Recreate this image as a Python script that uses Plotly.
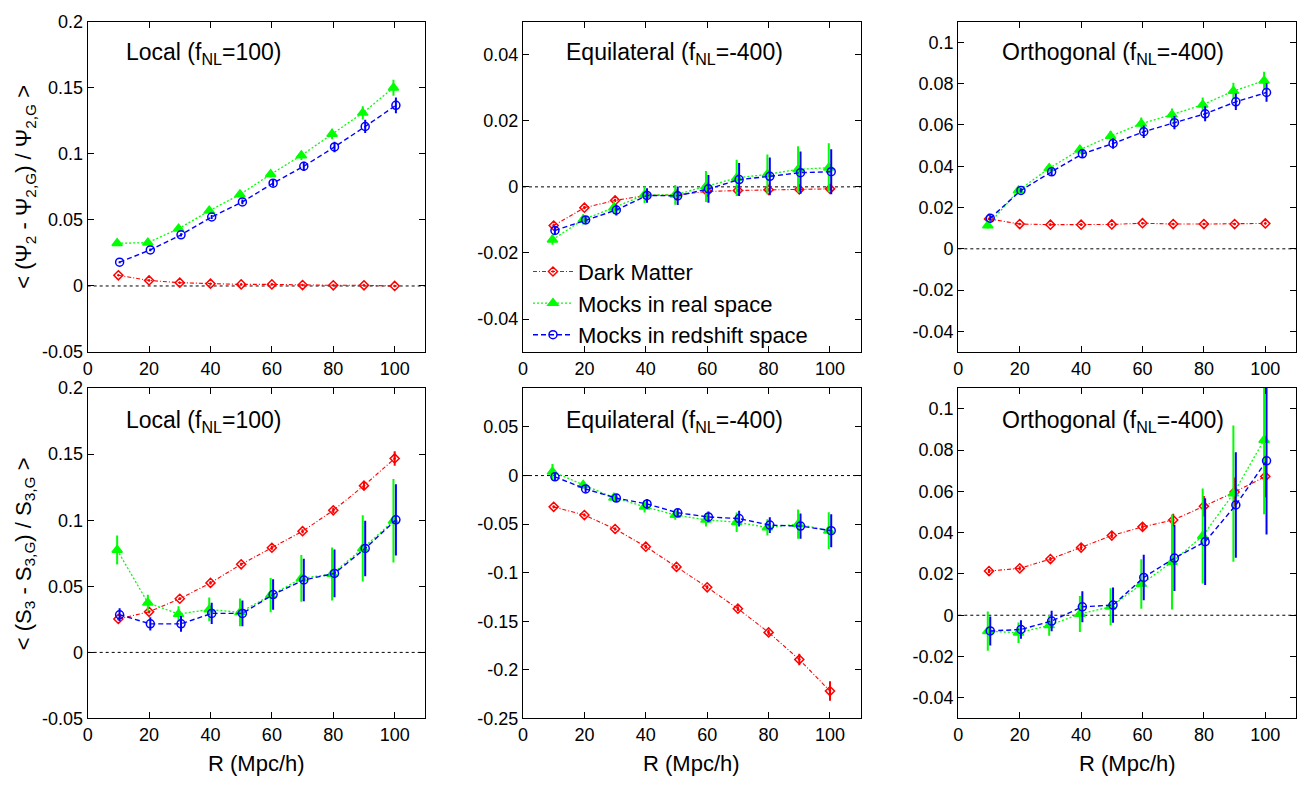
import plotly.graph_objects as go

# ---------------- data ----------------
R = [10, 20, 30, 40, 50, 60, 70, 80, 90, 100]
x_ticks = [0, 20, 40, 60, 80, 100]

series_names = ["Dark Matter", "Mocks in real space", "Mocks in redshift space"]
panel_titles = ["Local (f<sub>NL</sub>=100)", "Equilateral (f<sub>NL</sub>=-400)",
                "Orthogonal (f<sub>NL</sub>=-400)"]
ytitle_top = "< (\u03a8<sub>2</sub> - \u03a8<sub>2,G</sub>) / \u03a8<sub>2,G</sub> >"
ytitle_bot = "< (S<sub>3</sub> - S<sub>3,G</sub>) / S<sub>3,G</sub> >"
xtitle = "R (Mpc/h)"

# Top row: Psi_2
psi_loc_dm = [0.0081, 0.0042, 0.0025, 0.0017, 0.0012, 0.0012, 0.0007, 0.0005, 0.0005, 0.0000]
psi_loc_dm_err = [0.0006] * 10
psi_loc_real = [0.0323, 0.0328, 0.0433, 0.0569, 0.0692, 0.0845, 0.0988, 0.1150, 0.1310, 0.1500]
psi_loc_real_err = [0.0008, 0.0010, 0.0012, 0.0015, 0.0018, 0.0025, 0.0035, 0.0040, 0.0050, 0.0060]
psi_loc_red = [0.0180, 0.0273, 0.0387, 0.0522, 0.0636, 0.0778, 0.0906, 0.1052, 0.1207, 0.1367]
psi_loc_red_err = [0.0008, 0.0010, 0.0012, 0.0015, 0.0018, 0.0025, 0.0035, 0.0040, 0.0050, 0.0060]

psi_equ_dm = [-0.0117, -0.0063, -0.0041, -0.0026, -0.0024, -0.0014, -0.0011, -0.0009, -0.0008, -0.0006]
psi_equ_dm_err = [0.0005] * 10
psi_equ_real = [-0.0160, -0.0099, -0.0063, -0.0024, -0.0024, 0.0001, 0.0027, 0.0038, 0.0053, 0.0058]
psi_equ_real_err = [0.0015, 0.0015, 0.0020, 0.0025, 0.0030, 0.0047, 0.0055, 0.0060, 0.0070, 0.0074]
psi_equ_red = [-0.0132, -0.0100, -0.0070, -0.0026, -0.0027, -0.0006, 0.0022, 0.0032, 0.0043, 0.0046]
psi_equ_red_err = [0.0012, 0.0012, 0.0017, 0.0022, 0.0028, 0.0042, 0.0050, 0.0057, 0.0064, 0.0068]

psi_ort_dm = [0.0145, 0.0120, 0.0117, 0.0117, 0.0118, 0.0124, 0.0120, 0.0120, 0.0120, 0.0123]
psi_ort_dm_err = [0.0005] * 10
psi_ort_real = [0.0113, 0.0283, 0.0390, 0.0480, 0.0546, 0.0606, 0.0650, 0.0698, 0.0764, 0.0814]
psi_ort_real_err = [0.0015, 0.0010, 0.0015, 0.0020, 0.0025, 0.0030, 0.0030, 0.0035, 0.0040, 0.0043]
psi_ort_red = [0.0148, 0.0283, 0.0373, 0.0460, 0.0510, 0.0567, 0.0611, 0.0654, 0.0712, 0.0757]
psi_ort_red_err = [0.0012, 0.0010, 0.0015, 0.0020, 0.0025, 0.0030, 0.0032, 0.0036, 0.0040, 0.0045]

# Bottom row: S_3
s3_loc_dm = [0.0253, 0.0307, 0.0406, 0.0526, 0.0667, 0.0792, 0.0917, 0.1075, 0.1262, 0.1468]
s3_loc_dm_err = [0.0010, 0.0010, 0.0010, 0.0012, 0.0012, 0.0015, 0.0015, 0.0020, 0.0030, 0.0055]
s3_loc_real = [0.0775, 0.0376, 0.0290, 0.0325, 0.0303, 0.0433, 0.0560, 0.0593, 0.0787, 0.0996]
s3_loc_real_err = [0.0110, 0.0060, 0.0060, 0.0090, 0.0105, 0.0130, 0.0177, 0.0200, 0.0250, 0.0316]
s3_loc_red = [0.0285, 0.0216, 0.0216, 0.0295, 0.0295, 0.0438, 0.0548, 0.0598, 0.0787, 0.1003]
s3_loc_red_err = [0.0050, 0.0050, 0.0060, 0.0080, 0.0098, 0.0115, 0.0160, 0.0180, 0.0210, 0.0270]

s3_equ_dm = [-0.0322, -0.0406, -0.0550, -0.0732, -0.0940, -0.1150, -0.1370, -0.1614, -0.1893, -0.2218]
s3_equ_dm_err = [0.0015, 0.0015, 0.0015, 0.0020, 0.0020, 0.0020, 0.0025, 0.0030, 0.0060, 0.0100]
s3_equ_real = [0.0040, -0.0097, -0.0228, -0.0320, -0.0406, -0.0456, -0.0480, -0.0534, -0.0500, -0.0567]
s3_equ_real_err = [0.0080, 0.0040, 0.0040, 0.0060, 0.0050, 0.0067, 0.0100, 0.0084, 0.0150, 0.0190]
s3_equ_red = [-0.0013, -0.0138, -0.0232, -0.0292, -0.0383, -0.0426, -0.0443, -0.0510, -0.0520, -0.0567]
s3_equ_red_err = [0.0040, 0.0040, 0.0040, 0.0050, 0.0040, 0.0055, 0.0080, 0.0080, 0.0130, 0.0170]

s3_ort_dm = [0.0214, 0.0227, 0.0272, 0.0328, 0.0386, 0.0428, 0.0461, 0.0528, 0.0597, 0.0672]
s3_ort_dm_err = [0.0010, 0.0010, 0.0010, 0.0012, 0.0012, 0.0015, 0.0030, 0.0050, 0.0070, 0.0100]
s3_ort_real = [-0.0077, -0.0085, -0.0049, 0.0006, 0.0041, 0.0151, 0.0258, 0.0384, 0.0589, 0.0849]
s3_ort_real_err = [0.0095, 0.0050, 0.0050, 0.0087, 0.0090, 0.0120, 0.0230, 0.0230, 0.0330, 0.0360]
s3_ort_red = [-0.0076, -0.0069, -0.0028, 0.0041, 0.0049, 0.0183, 0.0277, 0.0356, 0.0534, 0.0748]
s3_ort_red_err = [0.0070, 0.0045, 0.0050, 0.0075, 0.0085, 0.0110, 0.0160, 0.0210, 0.0255, 0.0357]

# axis ranges and ticks per panel
yrange = [[-0.05, 0.2], [-0.05, 0.05], [-0.05, 0.11],
          [-0.05, 0.2], [-0.25, 0.09], [-0.05, 0.11]]
yticks = [[-0.05, 0, 0.05, 0.1, 0.15, 0.2],
          [-0.04, -0.02, 0, 0.02, 0.04],
          [-0.04, -0.02, 0, 0.02, 0.04, 0.06, 0.08, 0.1],
          [-0.05, 0, 0.05, 0.1, 0.15, 0.2],
          [-0.25, -0.2, -0.15, -0.1, -0.05, 0, 0.05],
          [-0.04, -0.02, 0, 0.02, 0.04, 0.06, 0.08, 0.1]]

panels = [
    (psi_loc_dm, psi_loc_dm_err, psi_loc_real, psi_loc_real_err, psi_loc_red, psi_loc_red_err),
    (psi_equ_dm, psi_equ_dm_err, psi_equ_real, psi_equ_real_err, psi_equ_red, psi_equ_red_err),
    (psi_ort_dm, psi_ort_dm_err, psi_ort_real, psi_ort_real_err, psi_ort_red, psi_ort_red_err),
    (s3_loc_dm, s3_loc_dm_err, s3_loc_real, s3_loc_real_err, s3_loc_red, s3_loc_red_err),
    (s3_equ_dm, s3_equ_dm_err, s3_equ_real, s3_equ_real_err, s3_equ_red, s3_equ_red_err),
    (s3_ort_dm, s3_ort_dm_err, s3_ort_real, s3_ort_real_err, s3_ort_red, s3_ort_red_err),
]

# ---------------- layout geometry ----------------
W, H = 1299, 785
FONT = "Liberation Sans, Arial, Helvetica, sans-serif"
xdom = [(83, 422), (520, 859), (957, 1296)]
ydom = [(12, 351), (388, 727)]

def fmt(v):
    s = ("%g" % v)
    return "0" if s in ("0", "-0") else s

fig = go.Figure()
layout = dict(width=W, height=H, margin=dict(l=0, r=0, t=0, b=0),
              paper_bgcolor="white", plot_bgcolor="white",
              font=dict(family=FONT, color="black", size=18),
              showlegend=True,
              legend=dict(x=525 / W, y=1 - 247 / H, xanchor="left", yanchor="top",
                          bgcolor="rgba(0,0,0,0)", font=dict(size=22, family=FONT),
                          tracegroupgap=0, itemwidth=40))
annotations = []
shapes = []

styles = [
    dict(color="#ff0000", dash="4px,2px,1px,2px", width=1.1, symbol="diamond-open-dot", msize=7, off=0.0),
    dict(color="#00ff00", dash="2px,2px", width=1.3, symbol="triangle-up", msize=9, off=-0.4),
    dict(color="#0000ff", dash="5px,3px", width=1.4, symbol="circle-open", msize=8, off=0.4),
]

for i, pdata in enumerate(panels):
    row, col = divmod(i, 3)
    k = i + 1
    xa = "xaxis" if k == 1 else "xaxis%d" % k
    ya = "yaxis" if k == 1 else "yaxis%d" % k
    xref = "x" if k == 1 else "x%d" % k
    yref = "y" if k == 1 else "y%d" % k
    x0, x1 = xdom[col]
    y0, y1 = ydom[row]
    layout[xa] = dict(domain=[x0 / W, x1 / W], range=[0, 110], anchor=yref,
                      tickvals=x_ticks, ticktext=[str(t) for t in x_ticks],
                      ticks="inside", ticklen=6, tickwidth=1, tickcolor="black",
                      showline=True, linecolor="black", linewidth=1.3, mirror="allticks",
                      showgrid=False, zeroline=False, tickfont=dict(size=18, family=FONT))
    layout[ya] = dict(domain=[1 - y1 / H, 1 - y0 / H], range=yrange[i], anchor=xref,
                      tickvals=yticks[i], ticktext=[fmt(t) for t in yticks[i]],
                      ticks="inside", ticklen=6, tickwidth=1, tickcolor="black",
                      showline=True, linecolor="black", linewidth=1.3, mirror="allticks",
                      showgrid=False, zeroline=False, tickfont=dict(size=18, family=FONT))
    # zero reference line
    shapes.append(dict(type="line", xref="%s domain" % xref, yref=yref, x0=0, x1=1, y0=0, y1=0,
                       line=dict(color="black", width=1, dash="3px,3px"), layer="below"))
    for s in range(3):
        st = styles[s]
        yv = pdata[2 * s]
        ev = pdata[2 * s + 1]
        fig.add_trace(go.Scatter(
            x=[r + st["off"] for r in R], y=yv, xaxis=xref, yaxis=yref,
            mode="lines+markers", name=series_names[s],
            showlegend=(i == 1), legendgroup=series_names[s],
            line=dict(color=st["color"], dash=st["dash"], width=st["width"]),
            marker=dict(symbol=st["symbol"], size=st["msize"], color=st["color"],
                        line=dict(color=st["color"], width=1.5)),
            error_y=dict(type="data", array=ev, visible=True, color=st["color"],
                         thickness=2, width=0),
            cliponaxis=True))
    # panel title
    tx = [119, 561, 999][col]
    ty = [45, 422][row]
    annotations.append(dict(text=panel_titles[col], xref="paper", yref="paper",
                            x=tx / W, y=1 - ty / H, xanchor="left", yanchor="middle",
                            showarrow=False, font=dict(size=23, family=FONT)))

# y-axis titles
for row, t in enumerate([ytitle_top, ytitle_bot]):
    yc = (ydom[row][0] + ydom[row][1]) / 2
    annotations.append(dict(text=t, xref="paper", yref="paper", x=20 / W, y=1 - yc / H,
                            xanchor="center", yanchor="middle", textangle=-90,
                            showarrow=False, font=dict(size=22, family=FONT)))
# x-axis titles
for col in range(3):
    xc = (xdom[col][0] + xdom[col][1]) / 2
    annotations.append(dict(text=xtitle, xref="paper", yref="paper", x=xc / W, y=1 - 773 / H,
                            xanchor="center", yanchor="middle", showarrow=False,
                            font=dict(size=22, family=FONT)))

layout["annotations"] = annotations
layout["shapes"] = shapes
fig.update_layout(**layout)
fig.write_html("out.html", config={"displayModeBar": False},
               post_script="document.body.style.margin='0';document.body.style.overflow='hidden';")
